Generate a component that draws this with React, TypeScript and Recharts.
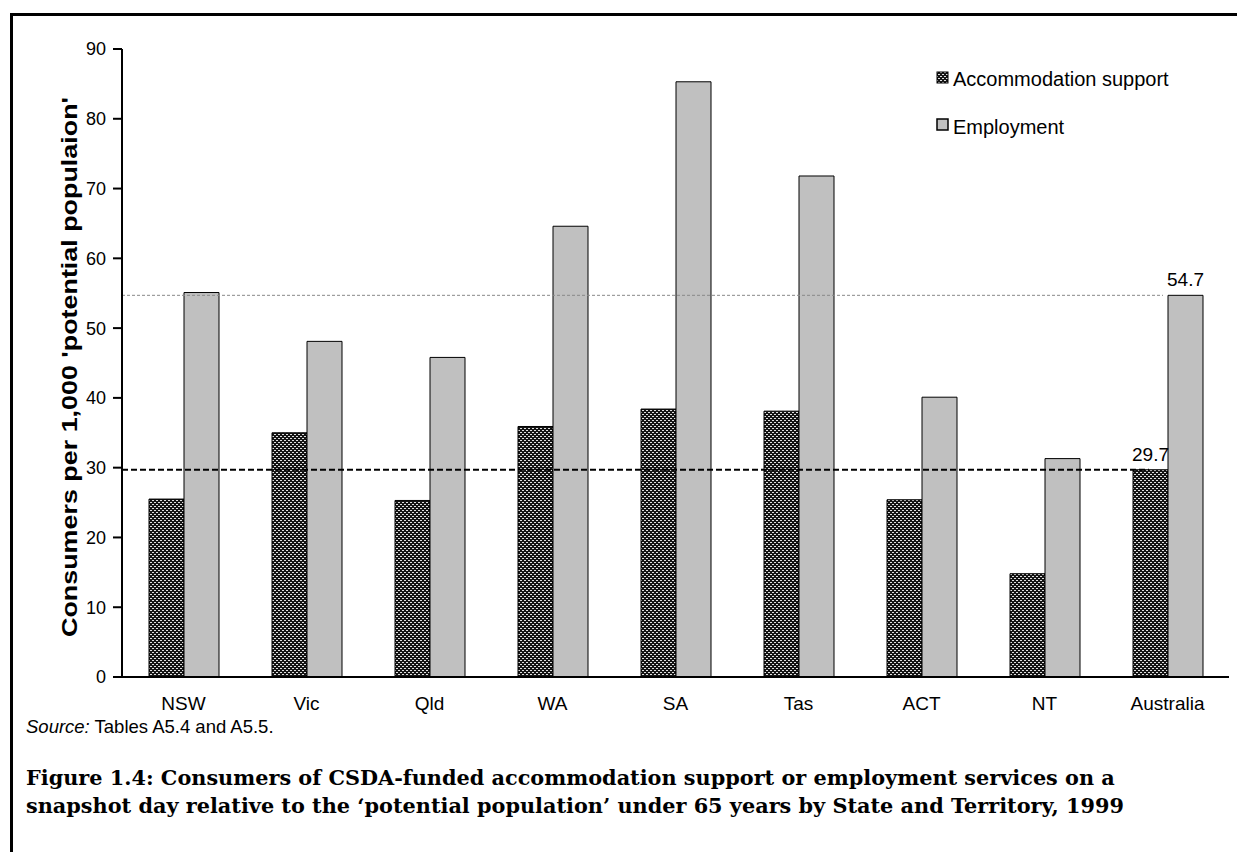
import React from 'react';
import { BarChart, Bar, XAxis, YAxis, ReferenceLine, LabelList } from 'recharts';

const categories = ['NSW', 'Vic', 'Qld', 'WA', 'SA', 'Tas', 'ACT', 'NT', 'Australia'];
const accommodation = [25.5, 35.0, 25.3, 35.9, 38.4, 38.1, 25.4, 14.8, 29.7];
const employment = [55.1, 48.1, 45.8, 64.6, 85.3, 71.8, 40.1, 31.3, 54.7];
const yTicks = [0, 10, 20, 30, 40, 50, 60, 70, 80, 90];
const accAverage = 29.7;
const empAverage = 54.7;

const data = categories.map((c, i) => ({ name: c, acc: accommodation[i], emp: employment[i] }));

const FONT = 'Arial, "Liberation Sans", Helvetica, sans-serif';
const SERIF = '"DejaVu Serif", "Liberation Serif", serif';

const lastLabel = (props: any) => {
  const { x, y, width, value, index } = props;
  if (index !== categories.length - 1) return null;
  return (
    <text x={x + width / 2} y={y - 9} textAnchor="middle" fontSize={19} fontFamily={FONT} fill="#000">
      {Number(value).toFixed(1)}
    </text>
  );
};

const trimmedLine = (trim: number, stroke: string, dash: string, w: number) => (props: any) => {
  const { x1, y1, x2, y2 } = props;
  return <line x1={x1} y1={y1} x2={x2 - trim} y2={y2} stroke={stroke} strokeDasharray={dash} strokeWidth={w} />;
};

export default function App() {
  return (
    <div style={{ position: 'absolute', left: 0, top: 0, width: 1237, height: 852, background: '#fff', overflow: 'hidden' }}>
      <div style={{ position: 'absolute', left: 10, top: 13, width: 1237, height: 852, borderTop: '3px solid #000', borderLeft: '3px solid #000' }} />
      <div style={{ position: 'absolute', left: 0, top: 0 }}>
        <BarChart width={1237} height={720} data={data} margin={{ top: 49, right: 8, left: 62, bottom: 13 }} barGap={0} barSize={35}>
          <defs>
            <pattern id="checker" width="4" height="4" patternUnits="userSpaceOnUse">
              <rect width="4" height="4" fill="#141414" />
              <rect x="0" y="0" width="2" height="1" fill="#e0e0e0" />
              <rect x="2" y="2" width="2" height="1" fill="#e0e0e0" />
            </pattern>
          </defs>
          <XAxis dataKey="name" tickLine={false} axisLine={{ stroke: '#000', strokeWidth: 2 }} tick={{ fill: '#000', fontSize: 19, fontFamily: FONT }} tickMargin={14} height={30} />
          <YAxis domain={[0, 90]} ticks={yTicks} width={60} tickLine={{ stroke: '#000', strokeWidth: 2 }} tickSize={9} tickMargin={7} axisLine={{ stroke: '#000', strokeWidth: 2 }} tick={{ fill: '#000', fontSize: 18, fontFamily: FONT }} interval={0} />
          <Bar dataKey="acc" fill="url(#checker)" stroke="#000" strokeWidth={1} isAnimationActive={false}>
            <LabelList dataKey="acc" content={lastLabel} />
          </Bar>
          <Bar dataKey="emp" fill="#c0c0c0" stroke="#000" strokeWidth={1} isAnimationActive={false}>
            <LabelList dataKey="emp" content={lastLabel} />
          </Bar>
          <ReferenceLine y={empAverage} shape={trimmedLine(66, '#888', '3 2', 1)} />
          <ReferenceLine y={accAverage} shape={trimmedLine(80, '#000', '6 3', 2)} />
        </BarChart>
      </div>
      <svg style={{ position: 'absolute', left: 0, top: 0 }} width={1237} height={852}>
        <text transform="translate(77,367) rotate(-90)" textAnchor="middle" fontSize={22} fontWeight="bold" fontFamily={FONT} fill="#000" textLength={540} lengthAdjust="spacingAndGlyphs">
          Consumers per 1,000 'potential populaion'
        </text>
        <rect x={937} y={72} width={11} height={11} fill="url(#checker)" stroke="#000" strokeWidth={1} />
        <text x={953} y={86} fontSize={20} fontFamily={FONT} fill="#000">Accommodation support</text>
        <rect x={937} y={119} width={11} height={11} fill="#c0c0c0" stroke="#000" strokeWidth={1.5} />
        <text x={953} y={134} fontSize={20} fontFamily={FONT} fill="#000">Employment</text>
        <text x={26} y={733} fontSize={18.5} fontFamily={FONT} fill="#000">
          <tspan fontStyle="italic">Source:</tspan> Tables A5.4 and A5.5.
        </text>
        <text x={26} y={785} fontSize={20.8} fontWeight="bold" fontFamily={SERIF} fill="#000">
          Figure 1.4: Consumers of CSDA-funded accommodation support or employment services on a
        </text>
        <text x={26} y={813} fontSize={20.8} fontWeight="bold" fontFamily={SERIF} fill="#000">
          snapshot day relative to the ‘potential population’ under 65 years by State and Territory, 1999
        </text>
      </svg>
    </div>
  );
}
